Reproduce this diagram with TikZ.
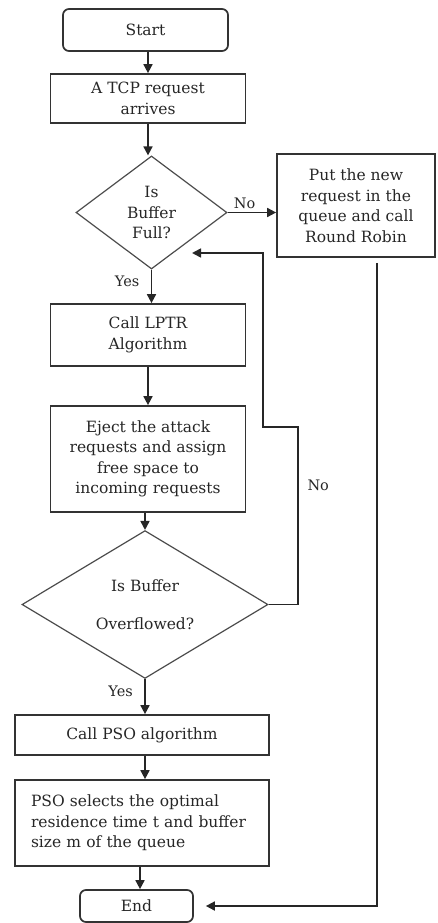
\documentclass[tikz,border=0pt]{standalone}
\usepackage{fontspec}
\setmainfont{DejaVu Serif}
\usetikzlibrary{shapes.geometric,arrows.meta}
\begin{document}
\begin{tikzpicture}[x=1pt,y=-1pt,
  every node/.style={font=\fontsize{15.5}{20.5}\selectfont, text=black!85},
  box/.style={draw=black!80, line width=1.7pt, rectangle, align=center, inner sep=0pt},
  term/.style={box, rounded corners=6pt},
  decision/.style={draw=black!70, line width=1.2pt, diamond, align=center, inner sep=0pt},
  flow/.style={draw=black!85, line width=1.7pt, -{Triangle[length=9pt,width=9pt]}},
  lbl/.style={font=\fontsize{14.5}{18}\selectfont}]
\useasboundingbox (0,0) rectangle (437,923);

\node[term, minimum width=165pt, minimum height=42pt] (start) at (145.5,30) {Start};
\node[box, minimum width=195pt, minimum height=49pt] (tcp) at (148,98.5) {A TCP request\\arrives};
\node[decision, minimum width=151pt, minimum height=113pt] (full) at (151.5,212.5) {Is\\Buffer\\Full?};
\node[box, minimum width=158pt, minimum height=103pt] (queue) at (356,205.5) {Put the new\\request in the\\queue and call\\Round Robin};
\node[box, minimum width=195pt, minimum height=62pt] (lptr) at (148,335) {Call LPTR\\Algorithm};
\node[box, minimum width=195pt, minimum height=106pt] (eject) at (148,459) {Eject the attack\\requests and assign\\free space to\\incoming requests};
\node[decision, minimum width=246pt, minimum height=115pt] (over) at (145,604.5) {Is Buffer\\[17pt]Overflowed?};
\node[box, minimum width=254pt, minimum height=40pt] (pso) at (142,735) {Call PSO algorithm};
\node[box, minimum width=254pt, minimum height=86pt, align=left, text width=222pt] (sel) at (142,823) {PSO selects the optimal\\residence time t and buffer\\size m of the queue\\ };
\node[term, minimum width=113pt, minimum height=32pt] (end) at (136.5,906) {End};

% main path
\draw[flow] (start.south -| tcp.north) -- (tcp.north);
\draw[flow] (tcp.south) -- (tcp.south |- full.north);
\draw[flow] (full.east) -- (full.east -| queue.west) node[lbl, pos=0.35, above] {No};
\draw[flow] (full.south) -- (full.south |- lptr.north) node[lbl, pos=0.35, left=8pt] {Yes};
\draw[flow] (lptr) -- (eject);
\draw[flow] (over.north |- eject.south) -- (over.north);
\draw[flow] (over.south) -- (over.south |- pso.north) node[lbl, pos=0.35, left=8pt] {Yes};
\draw[flow] (pso.south -| over.south) -- (sel.north -| over.south);
\draw[flow] ([xshift=3.5pt]sel.south -| end.north) -- ([xshift=3.5pt]end.north);

% loop back when the buffer has not overflowed
\coordinate (back) at (192,253);
\draw[flow] (over.east) -- (298,604.5) -- (298,427) -- (263,427) -- (263,253) -- (back);
\node[lbl, anchor=west] (no2) at (304,485) {No};

% round robin branch to the end
\draw[flow, shorten <=5pt, shorten >=12pt] ([xshift=21pt]queue.south) |- (end.east);
\end{tikzpicture}
\end{document}
